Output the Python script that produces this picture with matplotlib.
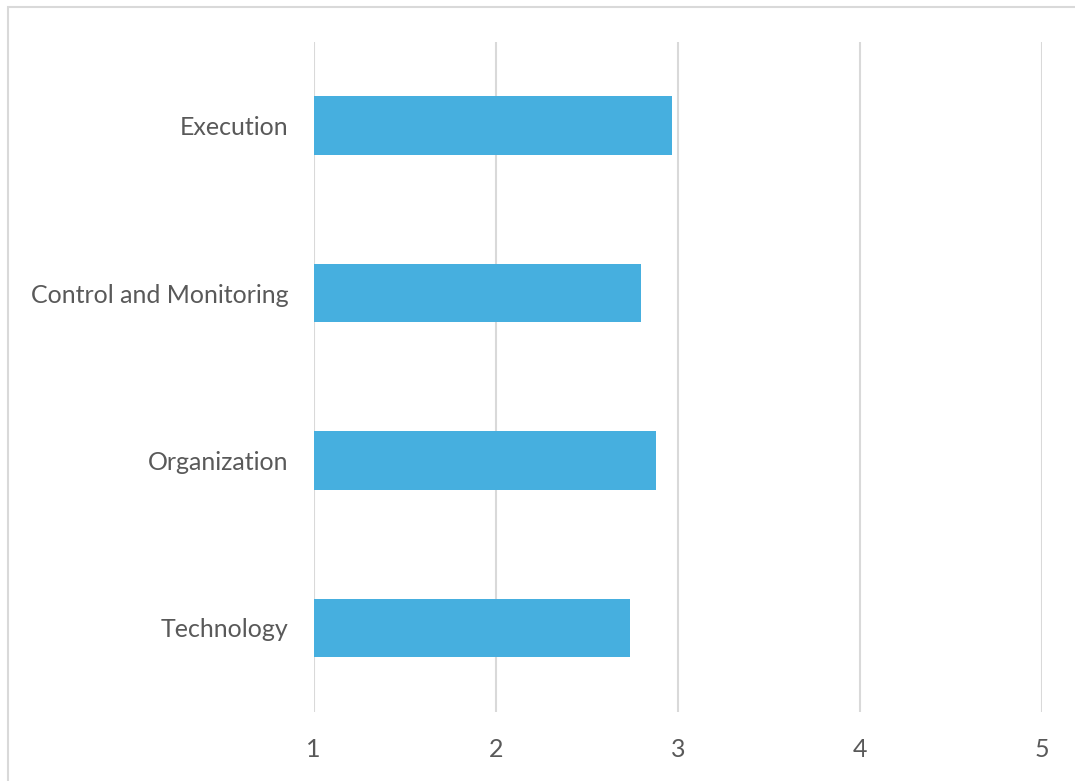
import matplotlib
matplotlib.use("Agg")
import matplotlib.pyplot as plt
from matplotlib.patches import Rectangle

categories = ["Technology", "Organization", "Control and Monitoring", "Execution"]
scores = [2.74, 2.88, 2.80, 2.97]
x_ticks = [1, 2, 3, 4, 5]

W, H = 1075, 781
fig = plt.figure(figsize=(W / 100, H / 100), dpi=100)

# chart frame
fig.patches.append(Rectangle((8 / W, -0.05), 1.1, 1 - 7 / H + 0.05,
                             transform=fig.transFigure, fill=False,
                             edgecolor="#D9D9D9", linewidth=1.5))

left, right = 313.5 / W, 1042 / W
bottom, top = 1 - 711.5 / H, 1 - 42 / H
ax = fig.add_axes([left, bottom, right - left, top - bottom])

ax.barh(range(len(categories)), scores, height=0.35, left=0,
        color="#46AFDF", zorder=3)
ax.set_xlim(1, 5)
ax.set_ylim(-0.5, len(categories) - 0.5)
ax.set_xticks(x_ticks)
ax.set_yticks(range(len(categories)))
ax.set_yticklabels(categories)
ax.grid(axis="x", color="#D9D9D9", linewidth=1.5, zorder=0)
for s in ax.spines.values():
    s.set_visible(False)
ax.tick_params(axis="both", length=0, labelsize=18, labelcolor="#595959")
ax.tick_params(axis="x", pad=19)
ax.tick_params(axis="y", pad=18)
for lab in ax.get_xticklabels() + ax.get_yticklabels():
    lab.set_fontfamily("Lato")

fig.savefig("out.png", dpi=100)
